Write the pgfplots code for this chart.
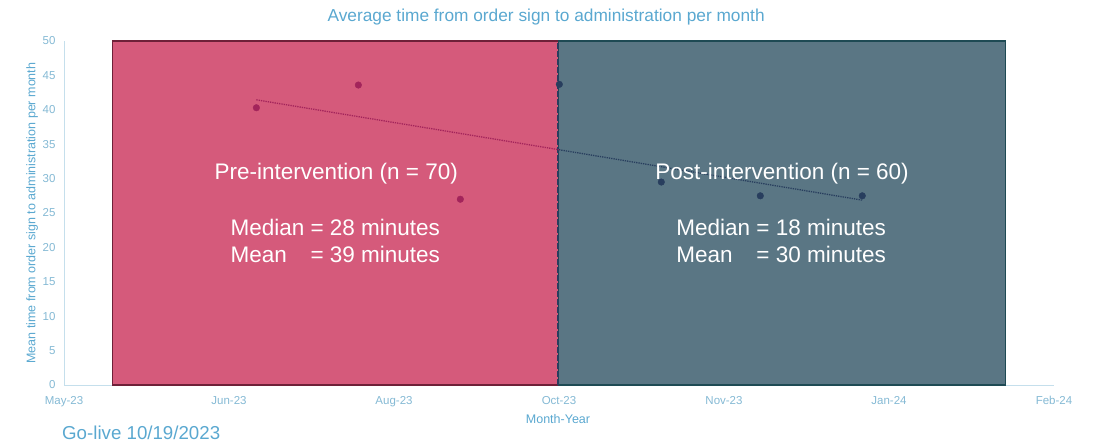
\documentclass[border=0pt]{standalone}
\usepackage{pgfplots}
\pgfplotsset{compat=1.18}
\usepackage{fontspec}
\setmainfont{Liberation Sans}
\definecolor{titleblue}{HTML}{5AA8D0}
\definecolor{ticklab}{HTML}{84B9D4}
\definecolor{axline}{HTML}{C5DFEC}
\definecolor{prefill}{HTML}{D55A7B}
\definecolor{preborder}{HTML}{6E2038}
\definecolor{postfill}{HTML}{5A7684}
\definecolor{postborder}{HTML}{1E4A54}
\definecolor{premark}{HTML}{A3245B}
\definecolor{postmark}{HTML}{283E5E}
\pgfplotstableread{
day  mean
58.3 40.3
89.2 43.6
120.1 27.0
}\pretable
\pgfplotstableread{
day  mean
150.1 43.7
181.0 29.5
211.0 27.5
241.9 27.5
}\posttable
\begin{document}
\begin{tikzpicture}
\useasboundingbox (0,0) rectangle (1099pt,445pt);
\begin{axis}[
  at={(64pt,60pt)}, anchor=south west,
  scale only axis, width=990pt, height=344pt,
  xmin=0, xmax=300, ymin=0, ymax=50,
  clip=false,
  axis lines*=left,
  axis line style={draw=axline, line width=1pt},
  major tick length=0pt,
  xtick={0,50,...,300},
  xticklabels={May-23,Jun-23,Aug-23,Oct-23,Nov-23,Jan-24,Feb-24},
  ytick={0,5,...,50},
  /pgf/number format/assume math mode=true,
  tick label style={font=\fontsize{11.5}{13}\selectfont, text=ticklab},
  xticklabel style={yshift=-8pt},
  yticklabel style={xshift=-5pt},
  xlabel={Month-Year},
  xlabel style={at={(axis description cs:0.499,0)}, anchor=center, yshift=-34pt, font=\fontsize{12.5}{14}\selectfont, text=titleblue},
  ylabel={Mean time from order sign to administration per month},
  ylabel style={at={(axis description cs:-0.0323,0.5)}, anchor=center, font=\fontsize{12.5}{14}\selectfont, text=titleblue},
  title={Average time from order sign to administration per month},
  title style={at={(axis description cs:0.487,1)}, anchor=center, yshift=18pt, font=\fontsize{17.3}{20}\selectfont, text=titleblue},
]
\addplot[fill=prefill, draw=preborder, line width=1.2pt] coordinates {(14.7,0)(14.7,50)(149.8,50)(149.8,0)} -- cycle;
\addplot[fill=postfill, draw=postborder, line width=1.2pt] coordinates {(149.8,0)(149.8,50)(285.2,50)(285.2,0)} -- cycle;
\addplot[draw=postmark, line width=1.8pt, dash pattern=on 6pt off 2pt] coordinates {(149.8,0)(149.8,50)};
\addplot[draw=premark, line width=1.3pt, densely dotted] coordinates {(58.3,41.45)(150,34.2)};
\addplot[draw=postmark, line width=1.3pt, densely dotted] coordinates {(150,34.2)(241.9,26.87)};
\addplot[only marks, mark=*, mark size=3.3pt, color=premark] table[x=day,y=mean] {\pretable};
\addplot[only marks, mark=*, mark size=3.3pt, color=postmark] table[x=day,y=mean] {\posttable};
\node[text=white, font=\fontsize{22.5}{26}\selectfont] at (axis cs:82.5,30.65) {Pre-intervention (n = 70)};
\node[text=white, font=\fontsize{22.5}{27}\selectfont, anchor=west, inner sep=0pt] at (axis cs:50.4,20.55)
  {\begin{tabular}{@{}l@{ }l@{}}Median & = 28 minutes\\ Mean & = 39 minutes\end{tabular}};
\node[text=white, font=\fontsize{22.5}{26}\selectfont] at (axis cs:217.6,30.65) {Post-intervention (n = 60)};
\node[text=white, font=\fontsize{22.5}{27}\selectfont, anchor=west, inner sep=0pt] at (axis cs:185.5,20.55)
  {\begin{tabular}{@{}l@{ }l@{}}Median & = 18 minutes\\ Mean & = 30 minutes\end{tabular}};
\end{axis}
\node[anchor=west, inner sep=0pt, text=titleblue, font=\fontsize{18.7}{22}\selectfont] at (62pt,12pt) {Go-live 10/19/2023};
\end{tikzpicture}
\end{document}
